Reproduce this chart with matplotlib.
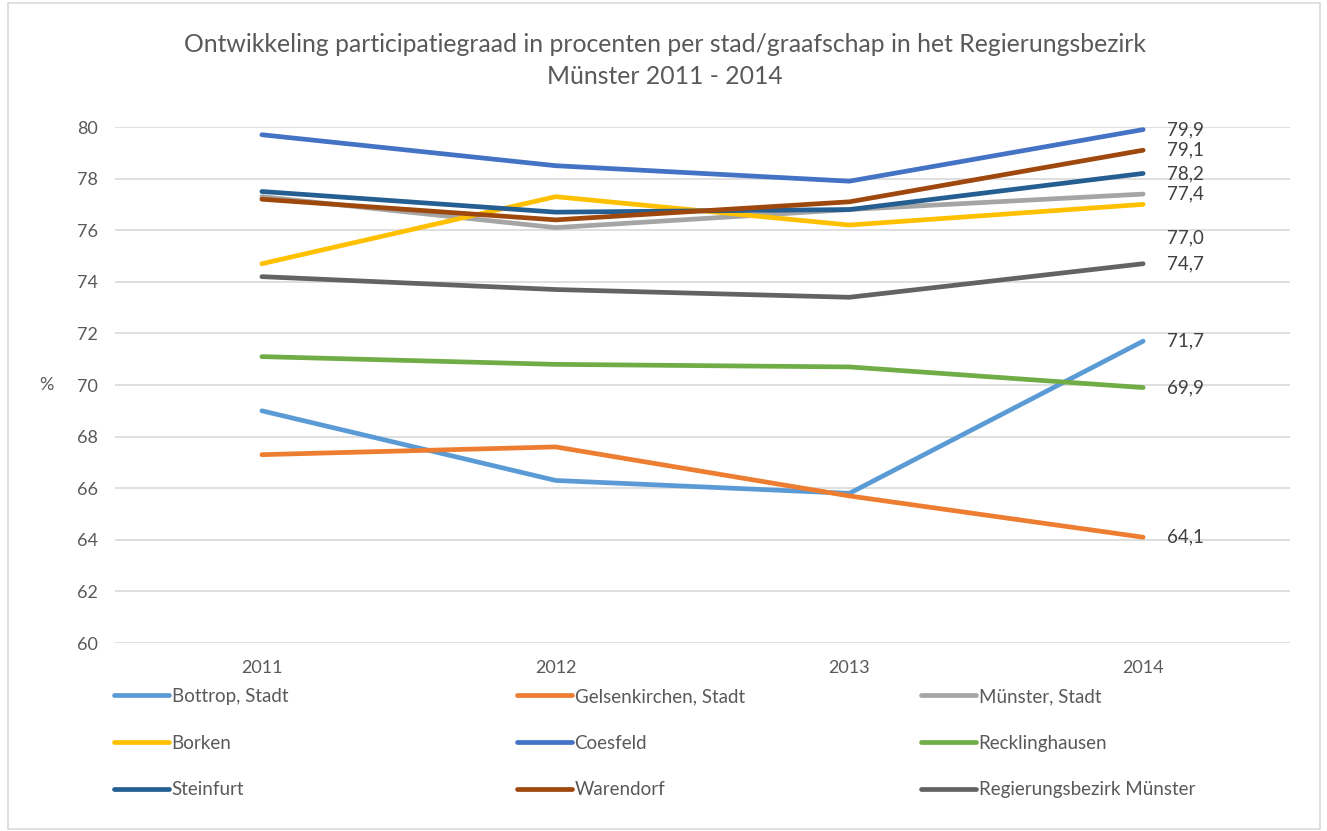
import matplotlib.pyplot as plt
from matplotlib.lines import Line2D
from matplotlib.patches import Rectangle

plt.rcParams['font.family'] = ['Lato', 'DejaVu Sans']

# Data
years = ["2011", "2012", "2013", "2014"]
series_names = ["Bottrop, Stadt", "Gelsenkirchen, Stadt", "Münster, Stadt",
                "Borken", "Coesfeld", "Recklinghausen",
                "Steinfurt", "Warendorf", "Regierungsbezirk Münster"]
bottrop = [69.0, 66.3, 65.8, 71.7]
gelsenkirchen = [67.3, 67.6, 65.7, 64.1]
muenster = [77.3, 76.1, 76.8, 77.4]
borken = [74.7, 77.3, 76.2, 77.0]
coesfeld = [79.7, 78.5, 77.9, 79.9]
recklinghausen = [71.1, 70.8, 70.7, 69.9]
steinfurt = [77.5, 76.7, 76.8, 78.2]
warendorf = [77.2, 76.4, 77.1, 79.1]
regbez = [74.2, 73.7, 73.4, 74.7]

values = [bottrop, gelsenkirchen, muenster, borken, coesfeld,
          recklinghausen, steinfurt, warendorf, regbez]
colors = ["#5B9BD5", "#ED7D31", "#A5A5A5", "#FFC000", "#4472C4",
          "#70AD47", "#255E91", "#9E480E", "#636363"]
# label vertical nudge in points (Excel moved the Borken label down)
label_dy = [0, 0, 0, -24, 0, 0, 0, 0, 0]

fig = plt.figure(figsize=(13.27, 8.31), dpi=100)
ax = fig.add_axes([115 / 1327, 1 - 643 / 831, 1175 / 1327, 516 / 831])

x = list(range(len(years)))
for name, vals, col, dy in zip(series_names, values, colors, label_dy):
    ax.plot(x, vals, color=col, lw=3.4, solid_capstyle='round',
            solid_joinstyle='round', label=name)
    ax.annotate(f"{vals[-1]:.1f}".replace(".", ","), (x[-1], vals[-1]),
                xytext=(17, dy), textcoords='offset points',
                va='center', ha='left', fontsize=13.5, color="#404040")

ax.set_xlim(-0.5, 3.5)
ax.set_ylim(60, 80)
ax.set_yticks(range(60, 81, 2))
ax.set_xticks(x)
ax.set_xticklabels(years)
ax.grid(axis='y', color="#D9D9D9", lw=1.2)
ax.set_axisbelow(True)
for s in ax.spines.values():
    s.set_visible(False)
ax.tick_params(length=0, labelsize=13, labelcolor="#595959", pad=12)
ax.tick_params(axis='x', pad=12)
ax.set_ylabel("%", rotation=0, fontsize=13, color="#595959", labelpad=22, va='center')

fig.text(0.501, 1 - 45 / 831, "Ontwikkeling participatiegraad in procenten per stad/graafschap in het Regierungsbezirk",
         ha='center', va='center', fontsize=17.8, color="#595959")
fig.text(0.501, 1 - 76 / 831, "Münster 2011 - 2014",
         ha='center', va='center', fontsize=17.8, color="#595959")

# Legend: three columns, laid out row-wise like Excel
handles = [Line2D([0], [0], color=c, lw=3.4, solid_capstyle='round') for c in colors]
col_x = [114, 517, 921]
for ci in range(3):
    idx = [ci, ci + 3, ci + 6]
    leg = fig.legend([handles[i] for i in idx], [series_names[i] for i in idx],
                     loc='upper left', bbox_to_anchor=(col_x[ci] / 1327, 1 - 688 / 831),
                     frameon=False, fontsize=13.5, handlelength=2.95, handletextpad=0.12,
                     labelspacing=1.58, borderaxespad=0, borderpad=0)
    for t in leg.get_texts():
        t.set_color("#595959")

fig.patches.append(Rectangle((8 / 1327, 2 / 831), 1312 / 1327, 826 / 831,
                             transform=fig.transFigure, fill=False,
                             edgecolor="#D9D9D9", lw=1.2))

fig.savefig("out.png", dpi=100)
